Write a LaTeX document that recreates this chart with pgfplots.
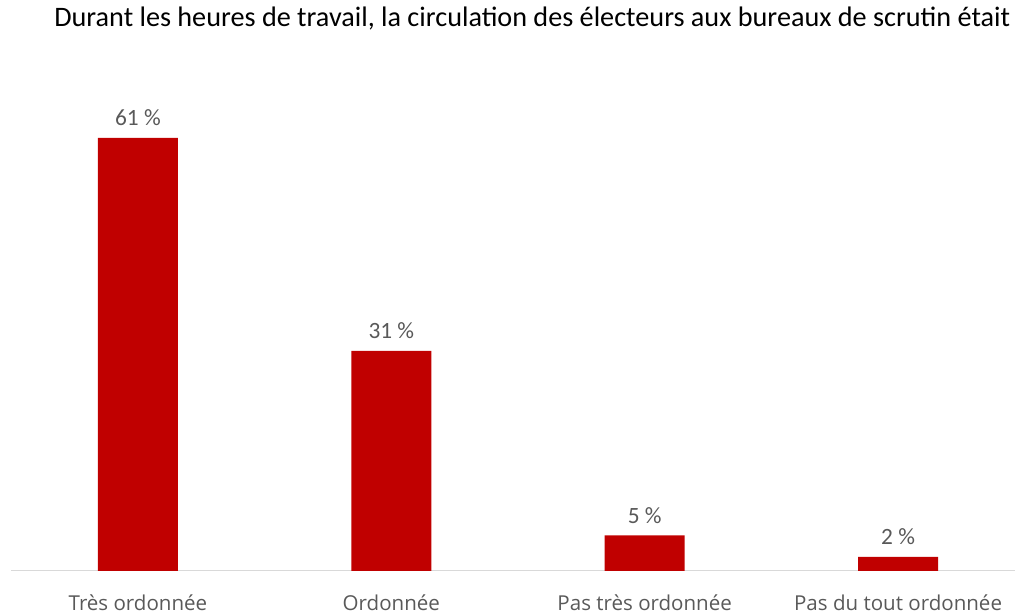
\documentclass[border=0pt]{standalone}
\usepackage{pgfplots}
\pgfplotsset{compat=1.18}
\usepackage{fontspec}
\setmainfont{Carlito}
\newfontfamily\osans{Open Sans}
\definecolor{barred}{HTML}{C00000}
\definecolor{lblgray}{HTML}{595959}
\definecolor{axgray}{HTML}{D9D9D9}
\begin{document}
\begin{tikzpicture}
\useasboundingbox (0pt,0pt) rectangle (761.25pt,460.5pt);
\clip (0pt,0pt) rectangle (761.25pt,460.5pt);
\node[anchor=base west, inner sep=0pt, font=\fontsize{21.15}{24}\selectfont, text=black] at (40.5pt,440.25pt) {Durant les heures de travail, la circulation des électeurs aux bureaux de scrutin était :};
\begin{axis}[
  at={(8.4375pt,32.25pt)}, anchor=south west,
  scale only axis, width=760.125pt, height=372.75pt,
  xmin=-0.5, xmax=3.5, ymin=0, ymax=70,
  ybar, bar width=60pt,
  axis x line*=bottom, hide y axis,
  x axis line style={draw=axgray, line width=0.75pt},
  xtick={0,1,2,3}, major tick length=0pt,
  xticklabels={Très ordonnée, Ordonnée, Pas très ordonnée, Pas du tout ordonnée},
  xticklabel style={font=\osans\fontsize{15.4}{17}\selectfont, text=lblgray, anchor=base, yshift=-29.8pt, inner sep=0pt},
  /pgf/number format/assume math mode=true,
  nodes near coords={\pgfmathprintnumber{\pgfplotspointmeta}\ \%},
  every node near coord/.append style={font=\fontsize{17.5}{20}\selectfont, text=lblgray, anchor=south, inner sep=0pt, yshift=9pt},
  clip=false,
]
\addplot[fill=barred, draw=none] coordinates {(0,61) (1,31) (2,5) (3,2)};
\end{axis}
\end{tikzpicture}
\end{document}
